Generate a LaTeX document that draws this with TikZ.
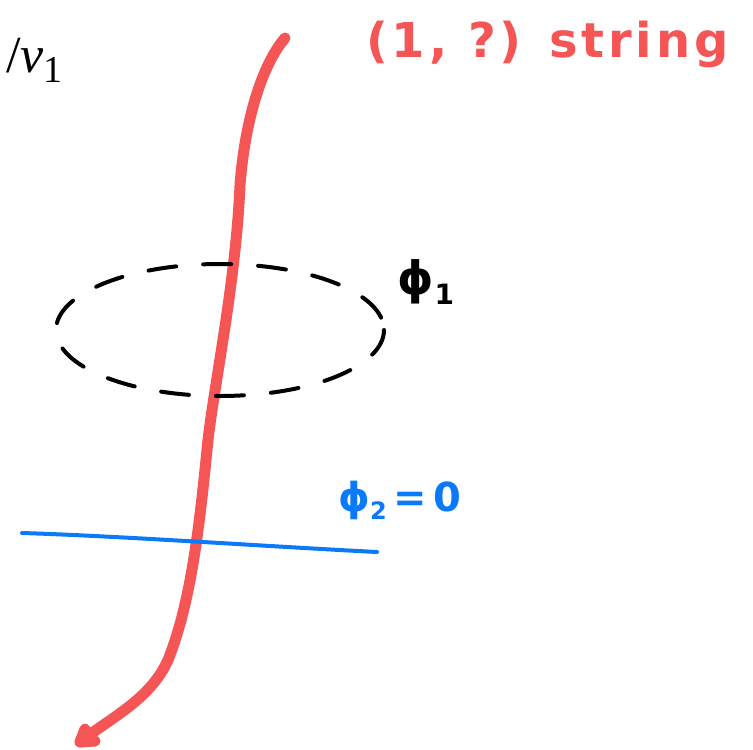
\documentclass[tikz,border=0pt]{standalone}
\usepackage{fontspec}
\usepackage{tikz}
\usetikzlibrary{arrows.meta,calc}
\newfontfamily\handfont{DejaVu Sans}
\newfontfamily\timesfont{Liberation Serif}
\definecolor{stringred}{RGB}{245,85,85}
\definecolor{wallblue}{RGB}{10,122,250}
\colorlet{loopblack}{black}

\begin{document}
\begin{tikzpicture}[x=1pt,y=-1pt,every node/.style={inner sep=0pt},hand/.style={font=\handfont\bfseries\fontsize{40}{44}\selectfont},stringline/.style={draw=stringred,line width=11pt,line cap=round,line join=round},wall/.style={draw=wallblue,line width=4pt,line cap=round},loopline/.style={draw=loopblack,line width=4pt,line cap=round,dash pattern=on 28pt off 27pt}]
        \useasboundingbox (0,0) rectangle (753,750);
        % labels
        \node[anchor=west,font=\timesfont\fontsize{52}{56}\selectfont] (vev) at (6,60) {/\textit{v}\raisebox{-10pt}{\fontsize{38}{40}\selectfont 1}};
        \node[hand,text=stringred,anchor=west,font=\handfont\bfseries\fontsize{48}{52}\selectfont] (name) at (366,44) {\addfontfeature{LetterSpace=8}(1, ?) string};
        \node[hand,text=loopblack,font=\handfont\bfseries\fontsize{46}{50}\selectfont] (phione) at (426,282) {ϕ\raisebox{-10pt}{\fontsize{28}{30}\selectfont 1}};
        \node[hand,text=wallblue,anchor=west] (phitwo) at (338,500) {ϕ\raisebox{-8pt}{\fontsize{24}{26}\selectfont 2}\,=\,0};
        % string
        \coordinate (stop) at (285,38);
        \coordinate (sbot) at (80,742);
        \draw[stringline] (stop) .. controls (262,65) and (245,120) .. (240,185)
          .. controls (236,280) and (215,380) .. (208,440)
          .. controls (200,520) and (192,600) .. (168,660)
          .. controls (150,700) and (110,718) .. (sbot);
        \draw[stringline] (sbot) -- ++(5,-13);
        \draw[stringline] (sbot) -- ++(15,-1);
        % loop around the string
        \coordinate (lc) at (220,330);
        \draw[loopline] (lc) ellipse [x radius=164, y radius=66];
        % domain wall
        \coordinate (wl) at (22,533);
        \coordinate (wr) at (377,552);
        \draw[wall] (wl) .. controls (120,536) and (260,546) .. (wr);
      \end{tikzpicture}
\end{document}
